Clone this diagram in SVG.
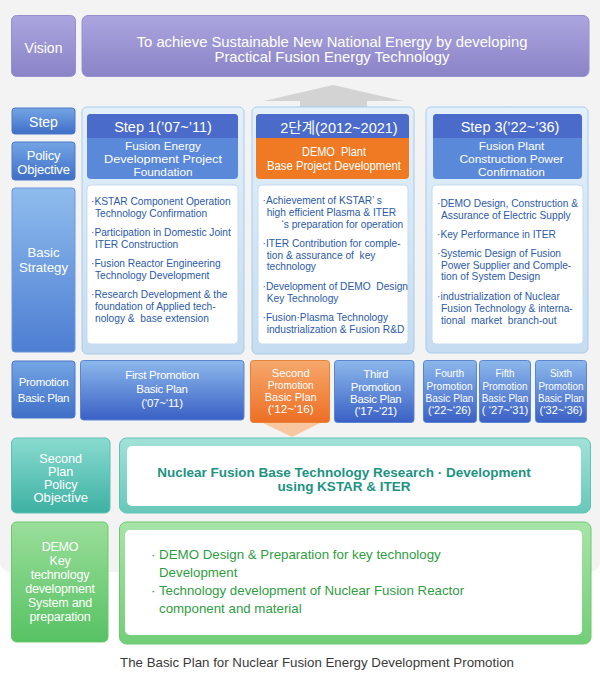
<svg xmlns="http://www.w3.org/2000/svg" width="600" height="686" viewBox="0 0 600 686">
<defs>
<linearGradient id="gPurple" x1="0" y1="0" x2="0" y2="1"><stop offset="0" stop-color="#aba5df"/><stop offset="1" stop-color="#8a84c8"/></linearGradient>
<linearGradient id="gBlue" x1="0" y1="0" x2="0" y2="1"><stop offset="0" stop-color="#74a5e4"/><stop offset="1" stop-color="#3f6fc7"/></linearGradient>
<linearGradient id="gBlueTall" x1="0" y1="0" x2="0" y2="1"><stop offset="0" stop-color="#8fbced"/><stop offset="1" stop-color="#4d7ed2"/></linearGradient>
<linearGradient id="gPromo" x1="0" y1="0" x2="0" y2="1"><stop offset="0" stop-color="#8cb8ec"/><stop offset="1" stop-color="#3a60c5"/></linearGradient>
<linearGradient id="gOrange" x1="0" y1="0" x2="0" y2="1"><stop offset="0" stop-color="#f6a86c"/><stop offset="1" stop-color="#ed6f24"/></linearGradient>
<linearGradient id="gPanel" x1="0" y1="0" x2="0" y2="1"><stop offset="0" stop-color="#e4f0fa"/><stop offset="1" stop-color="#c6dcf1"/></linearGradient>
<linearGradient id="gTealL" x1="0" y1="0" x2="0" y2="1"><stop offset="0" stop-color="#8adbd0"/><stop offset="1" stop-color="#3db1a3"/></linearGradient>
<linearGradient id="gTealB" x1="0" y1="0" x2="0" y2="1"><stop offset="0" stop-color="#a2e2d8"/><stop offset="1" stop-color="#68c8ba"/></linearGradient>
<linearGradient id="gGreenL" x1="0" y1="0" x2="0" y2="1"><stop offset="0" stop-color="#9ade9a"/><stop offset="1" stop-color="#57c263"/></linearGradient>
<linearGradient id="gGreenB" x1="0" y1="0" x2="0" y2="1"><stop offset="0" stop-color="#a8e4a8"/><stop offset="1" stop-color="#72ce77"/></linearGradient>
</defs>
<style>
text{font-family:"Liberation Sans",Arial,sans-serif;}
.w{fill:#ffffff;text-anchor:middle;}
.lab{font-size:13px;letter-spacing:-0.2px;}
.hd{font-size:14.5px;}
.po{font-size:11.8px;}
.bt{font-size:10.2px;fill:#2b5aa8;}
.pt{font-size:11.5px;letter-spacing:-0.3px;}
.ps{font-size:11.3px;}
.kr{font-family:"Liberation Sans","Noto Sans CJK KR",sans-serif;}
.blueL{fill:url(#gBlue);stroke:#4a78c8;stroke-width:1;}
.panel{fill:url(#gPanel);stroke:#a9cbea;stroke-width:1;}
.wbox{fill:#ffffff;stroke:#c5dbf0;stroke-width:1;}
.promo{fill:url(#gPromo);stroke:#5a86d0;stroke-width:1;}
</style>
<rect x="0" y="-10" width="600" height="582" rx="10" fill="#f3f3f3"/>

<g id="connectors">
<polygon points="264,101 333,85 403,101 367,101 367,110 300,110 300,101" fill="#d3d3d3"/>
<polygon points="263,423 320,423 292,437" fill="#f8c7a0"/>
</g>

<g id="vision-label">
<rect x="11.5" y="15.5" width="64" height="61" rx="5" fill="url(#gPurple)" stroke="#9690cf"/>
<text class="w" x="43.5" y="53" style="font-size:14px">Vision</text>
</g>
<g id="vision">
<rect x="82" y="15.5" width="507" height="61" rx="6" fill="url(#gPurple)" stroke="#9690cf"/>
<text class="w" x="332" y="46.5" style="font-size:14.8px">To achieve Sustainable New National Energy by developing</text>
<text class="w" x="332" y="61.5" style="font-size:14.8px">Practical Fusion Energy Technology</text>
</g>

<g id="step-label">
<rect x="12" y="108" width="63" height="26" rx="3" class="blueL"/>
<text class="w" x="43.5" y="127.2" style="font-size:14px">Step</text>
</g>
<g id="policy-label">
<rect x="12" y="142" width="63" height="38" rx="3" class="blueL"/>
<text class="w lab" x="43.5" y="159.5">Policy</text>
<text class="w lab" x="43.5" y="174">Objective</text>
</g>
<g id="strategy-label">
<rect x="12" y="188" width="63" height="164" rx="3" fill="url(#gBlueTall)" stroke="#6a98dc"/>
<text class="w" x="43.5" y="256.6" style="font-size:13.2px">Basic</text>
<text class="w" x="43.5" y="271.6" style="font-size:13.2px">Strategy</text>
</g>

<g id="step1">
<rect x="82" y="107" width="162" height="247" rx="5" class="panel"/>
<rect x="87" y="114" width="151" height="65" rx="4" fill="#5b89da"/>
<path d="M87,138 V118 a4,4 0 0 1 4,-4 H234 a4,4 0 0 1 4,4 V138 Z" fill="#4a6bc9"/>
<text class="w hd" x="163" y="131.8">Step 1(’07~’11)</text>
<text class="w po" x="163" y="149.6">Fusion Energy</text>
<text class="w po" x="163" y="162.9" textLength="118" lengthAdjust="spacingAndGlyphs">Development Project</text>
<text class="w po" x="163" y="176.2">Foundation</text>
<rect x="87" y="185" width="151" height="159" rx="4" class="wbox"/>
<text class="bt" x="91" y="204.6">·KSTAR Component Operation</text>
<text class="bt" x="95" y="216.9">Technology Confirmation</text>
<text class="bt" x="91" y="236.3">·Participation in Domestic Joint</text>
<text class="bt" x="95" y="247.9">ITER Construction</text>
<text class="bt" x="91" y="266.9">·Fusion Reactor Engineering</text>
<text class="bt" x="95" y="278.6">Technology Development</text>
<text class="bt" x="91" y="297.6">·Research Development &amp; the</text>
<text class="bt" x="95" y="309.6">foundation of Applied tech-</text>
<text class="bt" x="95" y="321.9" xml:space="preserve">nology &amp;  base extension</text>
</g>

<g id="step2">
<rect x="252" y="107" width="162" height="247" rx="5" class="panel"/>
<rect x="256" y="114" width="153" height="65" rx="4" fill="#f07a24"/>
<path d="M256,138 V118 a4,4 0 0 1 4,-4 H405 a4,4 0 0 1 4,4 V138 Z" fill="#4a6bc9"/>
<text class="w hd kr" x="339" y="133.3">2단계(2012~2021)</text>
<text class="w" x="334" y="155.5" style="font-size:12.3px" textLength="64" lengthAdjust="spacingAndGlyphs" xml:space="preserve">DEMO  Plant</text>
<text class="w" x="334" y="169.5" style="font-size:12.3px" textLength="134" lengthAdjust="spacingAndGlyphs">Base Project Development</text>
<rect x="258" y="185" width="150" height="159" rx="4" class="wbox"/>
<text class="bt" x="262.5" y="203.6">·Achievement of KSTAR’ s</text>
<text class="bt" x="266.7" y="215.6">high efficient Plasma &amp; ITER</text>
<text class="bt" x="281.5" y="227.9">‘s preparation for operation</text>
<text class="bt" x="262.5" y="246.9">·ITER Contribution for comple-</text>
<text class="bt" x="266.7" y="258.9" xml:space="preserve">tion &amp; assurance of  key</text>
<text class="bt" x="266.7" y="270.3">technology</text>
<text class="bt" x="262.5" y="289.6" xml:space="preserve">·Development of DEMO  Design</text>
<text class="bt" x="266.7" y="301.6">Key Technology</text>
<text class="bt" x="262.5" y="320.9">·Fusion·Plasma Technology</text>
<text class="bt" x="266.7" y="332.9">industrialization &amp; Fusion R&amp;D</text>
</g>

<g id="step3">
<rect x="426" y="107" width="162" height="246" rx="5" class="panel"/>
<rect x="433" y="114" width="149" height="65" rx="4" fill="#5b89da"/>
<path d="M433,138 V118 a4,4 0 0 1 4,-4 H578 a4,4 0 0 1 4,4 V138 Z" fill="#4a6bc9"/>
<text class="w hd" x="510" y="131.8">Step 3(’22~’36)</text>
<text class="w po" x="511.5" y="149.6">Fusion Plant</text>
<text class="w po" x="511.5" y="162.9" textLength="104" lengthAdjust="spacingAndGlyphs">Construction Power</text>
<text class="w po" x="511.5" y="176.2">Confirmation</text>
<rect x="432" y="185" width="151" height="159" rx="4" class="wbox"/>
<text class="bt" x="437" y="206.9">·DEMO Design, Construction &amp;</text>
<text class="bt" x="441" y="218.9">Assurance of Electric Supply</text>
<text class="bt" x="437" y="237.9">·Key Performance in ITER</text>
<text class="bt" x="437" y="256.9">·Systemic Design of Fusion</text>
<text class="bt" x="441" y="268.6">Power Supplier and Comple-</text>
<text class="bt" x="441" y="280.3">tion of System Design</text>
<text class="bt" x="437" y="299.6">·industrialization of Nuclear</text>
<text class="bt" x="441" y="311.9">Fusion Technology &amp; interna-</text>
<text class="bt" x="441" y="323.6" xml:space="preserve">tional  market  branch-out</text>
</g>

<g id="promo-label">
<rect x="12" y="361" width="63" height="57" rx="3" class="blueL"/>
<text class="w pt" x="43.5" y="385.7">Promotion</text>
<text class="w pt" x="43.5" y="401.7">Basic Plan</text>
</g>
<g id="promo1">
<rect x="80.5" y="360.5" width="163.5" height="59.5" rx="3" class="promo"/>
<text class="w pt" x="162" y="379">First Promotion</text>
<text class="w pt" x="162" y="393">Basic Plan</text>
<text class="w pt" x="162" y="406.7">(‘07~‘11)</text>
</g>
<g id="promo2">
<rect x="250.5" y="360.5" width="79" height="62" rx="3" fill="url(#gOrange)" stroke="#e8813a"/>
<text class="w ps" x="290.7" y="377.3" textLength="38" lengthAdjust="spacingAndGlyphs">Second</text>
<text class="w ps" x="290.7" y="389" textLength="46" lengthAdjust="spacingAndGlyphs">Promotion</text>
<text class="w ps" x="290.7" y="400.7" textLength="52" lengthAdjust="spacingAndGlyphs">Basic Plan</text>
<text class="w ps" x="290.7" y="413" textLength="46" lengthAdjust="spacingAndGlyphs">(‘12~‘16)</text>
</g>
<g id="promo3">
<rect x="334.5" y="360.5" width="79.5" height="62" rx="3" class="promo"/>
<text class="w pt" x="375.7" y="378.3">Third</text>
<text class="w pt" x="375.7" y="390.7">Promotion</text>
<text class="w pt" x="375.7" y="403">Basic Plan</text>
<text class="w pt" x="375.7" y="415">(‘17~‘21)</text>
</g>
<g id="promo4">
<rect x="423.5" y="360.5" width="53" height="62" rx="3" class="promo"/>
<text class="w ps" x="449.5" y="377.3" textLength="29" lengthAdjust="spacingAndGlyphs">Fourth</text>
<text class="w ps" x="449.5" y="389.7" textLength="46" lengthAdjust="spacingAndGlyphs">Promotion</text>
<text class="w ps" x="449.5" y="401.7" textLength="48" lengthAdjust="spacingAndGlyphs">Basic Plan</text>
<text class="w ps" x="449.5" y="414" textLength="43" lengthAdjust="spacingAndGlyphs">(‘22~‘26)</text>
</g>
<g id="promo5">
<rect x="479.5" y="360.5" width="51" height="62" rx="3" class="promo"/>
<text class="w ps" x="505" y="377.3" textLength="19" lengthAdjust="spacingAndGlyphs">Fifth</text>
<text class="w ps" x="505" y="389.7" textLength="45" lengthAdjust="spacingAndGlyphs">Promotion</text>
<text class="w ps" x="505" y="401.7" textLength="46.5" lengthAdjust="spacingAndGlyphs">Basic Plan</text>
<text class="w ps" x="505" y="414" textLength="46.5" lengthAdjust="spacingAndGlyphs" xml:space="preserve">( ‘27~‘31)</text>
</g>
<g id="promo6">
<rect x="535.5" y="360.5" width="51" height="62" rx="3" class="promo"/>
<text class="w ps" x="561" y="377.3" textLength="22" lengthAdjust="spacingAndGlyphs">Sixth</text>
<text class="w ps" x="561" y="389.7" textLength="45" lengthAdjust="spacingAndGlyphs">Promotion</text>
<text class="w ps" x="561" y="401.7" textLength="46" lengthAdjust="spacingAndGlyphs">Basic Plan</text>
<text class="w ps" x="561" y="414" textLength="43" lengthAdjust="spacingAndGlyphs">(‘32~‘36)</text>
</g>

<g id="second-plan-label">
<rect x="11.5" y="438" width="98.5" height="75" rx="5" fill="url(#gTealL)" stroke="#5cc1b3"/>
<text class="w" x="60.7" y="462.5" style="font-size:12.6px">Second</text>
<text class="w" x="60.7" y="475.5" style="font-size:12.6px">Plan</text>
<text class="w" x="60.7" y="488.5" style="font-size:12.6px">Policy</text>
<text class="w" x="60.7" y="501.5" style="font-size:12.6px" textLength="54.5" lengthAdjust="spacingAndGlyphs">Objective</text>
</g>
<g id="second-plan">
<rect x="119.5" y="438" width="471" height="75" rx="7" fill="url(#gTealB)" stroke="#5fc3b4"/>
<rect x="127" y="446" width="454" height="60" rx="5" fill="#ffffff"/>
<text x="344" y="476.8" style="font-size:13.5px;font-weight:bold;fill:#1d9382;text-anchor:middle">Nuclear Fusion Base Technology Research · Development</text>
<text x="344" y="490.8" style="font-size:13.5px;font-weight:bold;fill:#1d9382;text-anchor:middle">using KSTAR &amp; ITER</text>
</g>

<g id="demo-label">
<rect x="11.5" y="522" width="96.5" height="120" rx="5" fill="url(#gGreenL)" stroke="#6cc86f"/>
<text class="w" x="60" y="551" style="font-size:12.5px;letter-spacing:-0.2px">DEMO</text>
<text class="w" x="60" y="565" style="font-size:12.5px;letter-spacing:-0.2px">Key</text>
<text class="w" x="60" y="579.3" style="font-size:12.5px;letter-spacing:-0.2px">technology</text>
<text class="w" x="60" y="593.3" style="font-size:12.5px;letter-spacing:-0.2px">development</text>
<text class="w" x="60" y="607" style="font-size:12.5px;letter-spacing:-0.2px">System and</text>
<text class="w" x="60" y="621" style="font-size:12.5px;letter-spacing:-0.2px">preparation</text>
</g>
<g id="demo">
<rect x="119.5" y="522" width="471.5" height="122" rx="7" fill="url(#gGreenB)" stroke="#6dc971"/>
<rect x="125" y="530" width="457" height="105" rx="5" fill="#ffffff"/>
<text x="151" y="558.7" style="font-size:13.3px;fill:#2f9d3f">· DEMO Design &amp; Preparation for key technology</text>
<text x="159" y="576.7" style="font-size:13.3px;fill:#2f9d3f">Development</text>
<text x="151" y="595.4" style="font-size:13.3px;fill:#2f9d3f">· Technology development of Nuclear Fusion Reactor</text>
<text x="159" y="612.7" style="font-size:13.3px;fill:#2f9d3f">component and material</text>
</g>

<text x="317" y="666.7" style="font-size:13.3px;fill:#3a3a3a;text-anchor:middle">The Basic Plan for Nuclear Fusion Energy Development Promotion</text>
</svg>
